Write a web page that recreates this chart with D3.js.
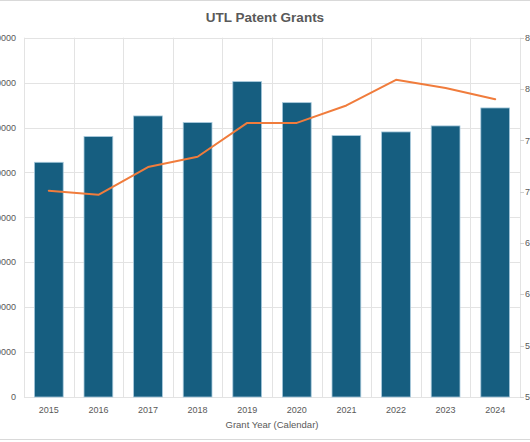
<!DOCTYPE html>
<html>
<head>
<meta charset="utf-8">
<script src="https://cdn.jsdelivr.net/npm/d3@7/dist/d3.min.js"></script>
<style>
  html, body { margin: 0; padding: 0; background: #fff; }
  svg { display: block; }
  text { font-family: "Liberation Sans", Arial, sans-serif; }
</style>
</head>
<body>
<svg id="chart" width="530" height="442"></svg>
<script>
const years = ["2015","2016","2017","2018","2019","2020","2021","2022","2023","2024"];
const grants = [261300, 289900, 312900, 305500, 351100, 327700, 291000, 295100, 301800, 321800];
const rightSeries = [70.1, 69.7, 72.4, 73.4, 76.7, 76.7, 78.4, 80.9, 80.1, 79.0];
const leftTicks = [0, 50000, 100000, 150000, 200000, 250000, 300000, 350000, 400000];
const rightTicks = [50, 55, 60, 65, 70, 75, 80, 85];
const title = "UTL Patent Grants";
const xTitle = "Grant Year (Calendar)";

const svg = d3.select("#chart");
const W = 530, H = 442;
const plot = { left: 24, right: 520, top: 37.7, bottom: 397 };

// frame
svg.append("rect").attr("x", -5).attr("y", 0.5).attr("width", W + 10).attr("height", 439)
  .attr("fill", "#fff").attr("stroke", "#d9d9d9").attr("stroke-width", 1);

const x = d3.scaleBand().domain(years).range([plot.left, plot.right])
  .paddingInner(0.42).paddingOuter(0.21);
const yL = d3.scaleLinear().domain([0, 400000]).range([plot.bottom, plot.top]);
const yR = d3.scaleLinear().domain([50, 85]).range([plot.bottom, plot.top]);
const step = x.step();

const grid = "#e3e3e3";
// horizontal gridlines
svg.append("g").selectAll("line").data(leftTicks).join("line")
  .attr("x1", plot.left).attr("x2", plot.right)
  .attr("y1", d => Math.round(yL(d)) + 0.5).attr("y2", d => Math.round(yL(d)) + 0.5)
  .attr("stroke", grid).attr("stroke-width", 1);
// vertical gridlines at category boundaries
const bounds = [plot.left].concat(years.map(y => x(y) - step * x.paddingOuter() + step));
svg.append("g").selectAll("line").data(bounds).join("line")
  .attr("x1", d => Math.round(d) + 0.5).attr("x2", d => Math.round(d) + 0.5)
  .attr("y1", plot.top).attr("y2", plot.bottom)
  .attr("stroke", grid).attr("stroke-width", 1);

// right axis ticks
svg.append("g").selectAll("line").data(rightTicks).join("line")
  .attr("x1", plot.right).attr("x2", plot.right + 4)
  .attr("y1", d => Math.round(yR(d)) + 0.5).attr("y2", d => Math.round(yR(d)) + 0.5)
  .attr("stroke", "#d0d0d0");

// bars
svg.append("g").selectAll("rect").data(years).join("rect")
  .attr("x", d => x(d)).attr("width", x.bandwidth())
  .attr("y", (d, i) => yL(grants[i]))
  .attr("height", (d, i) => yL(0) - yL(grants[i]))
  .attr("fill", "#165e80").attr("stroke", "#a7c9dc").attr("stroke-width", 0.8);

// line
const line = d3.line().x((d, i) => x(years[i]) + x.bandwidth() / 2).y(d => yR(d));
svg.append("path").datum(rightSeries).attr("d", line)
  .attr("fill", "none").attr("stroke", "#f07c3c").attr("stroke-width", 2)
  .attr("stroke-linejoin", "round").attr("stroke-linecap", "round");

const labelColor = "#595959";
// left tick labels
svg.append("g").selectAll("text").data(leftTicks).join("text")
  .attr("x", 16).attr("y", d => yL(d)).attr("dy", "0.35em")
  .attr("text-anchor", "end").attr("font-size", 9).attr("fill", labelColor)
  .text(d => d3.format("d")(d));
// right tick labels
svg.append("g").selectAll("text").data(rightTicks).join("text")
  .attr("x", 525).attr("y", d => yR(d)).attr("dy", "0.35em")
  .attr("text-anchor", "start").attr("font-size", 9).attr("fill", labelColor)
  .text(d => d);
// x labels
svg.append("g").selectAll("text").data(years).join("text")
  .attr("x", d => x(d) + x.bandwidth() / 2).attr("y", 412.5)
  .attr("text-anchor", "middle").attr("font-size", 9).attr("fill", labelColor)
  .text(d => d);
// x title
svg.append("text").attr("x", 272).attr("y", 428)
  .attr("text-anchor", "middle").attr("font-size", 9.5).attr("fill", labelColor)
  .text(xTitle);
// title
svg.append("text").attr("x", 265).attr("y", 21.5)
  .attr("text-anchor", "middle").attr("font-size", 13.5).attr("font-weight", "bold")
  .attr("fill", labelColor).text(title);
</script>
</body>
</html>
